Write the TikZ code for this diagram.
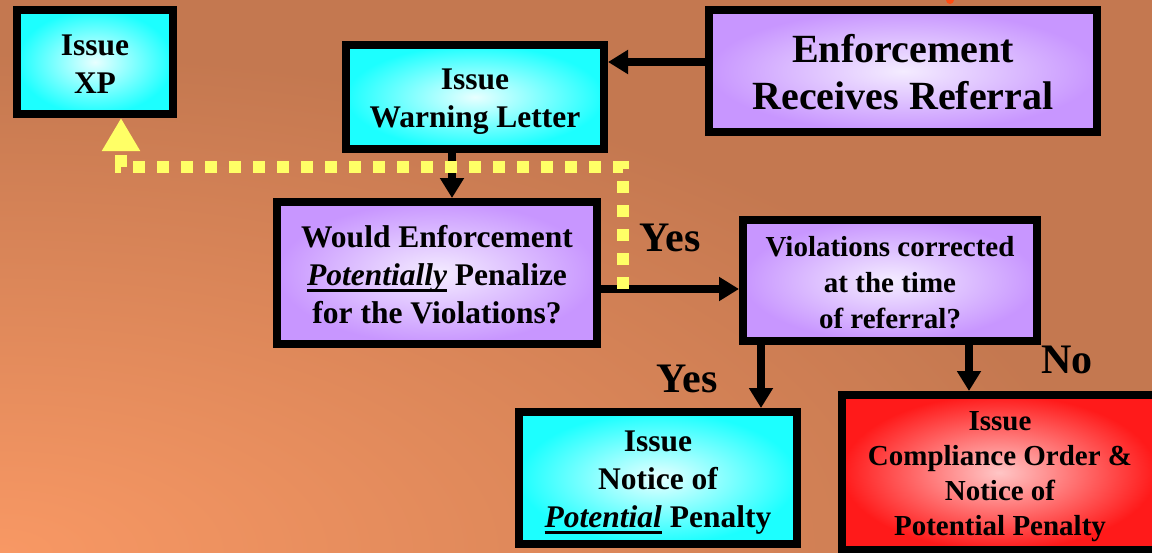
\documentclass[tikz,border=0pt]{standalone}
\usepackage{fontspec}
\setmainfont{Liberation Serif}
\usetikzlibrary{arrows.meta}
\definecolor{bgbase}{HTML}{C47850}
\definecolor{bglight}{HTML}{F89864}
\definecolor{cyanedge}{HTML}{1CFFFF}
\definecolor{cyancenter}{HTML}{E8FFFF}
\definecolor{purpedge}{HTML}{C896FF}
\definecolor{purpcenter}{HTML}{F4ECFF}
\definecolor{rededge}{HTML}{FF1A1A}
\definecolor{redcenter}{HTML}{FFC6C6}
\definecolor{dotyellow}{HTML}{FFFF66}
\definecolor{dotorange}{HTML}{FF4A10}
\newsavebox\ulbox
\newcommand\thickul[1]{\sbox\ulbox{#1}\rlap{\rule[-6pt]{\wd\ulbox}{3pt}}\usebox\ulbox}
\tikzset{
  box/.style={draw=black, line width=8pt, inner sep=0pt},
  cyanbox/.style={box, inner color=cyancenter, outer color=cyanedge},
  purplebox/.style={box, inner color=purpcenter, outer color=purpedge},
  redbox/.style={box, inner color=redcenter, outer color=rededge},
  txt/.style={inner sep=0pt, align=center},
  fmain/.style={txt, font=\bfseries\fontsize{31.5}{38}\selectfont},
  fbig/.style={txt, font=\bfseries\fontsize{40}{47}\selectfont},
  fsmall/.style={txt, font=\bfseries\fontsize{29}{36}\selectfont},
  fcomp/.style={txt, font=\bfseries\fontsize{29}{35}\selectfont},
  lbl/.style={inner sep=0pt, font=\bfseries\fontsize{42}{48}\selectfont},
  arr/.style={line width=8pt, -{Triangle[length=20pt,width=23pt]}},
  yellowdots/.style={draw=dotyellow, line width=12pt, dash pattern=on 12pt off 12pt,
    -{Triangle[length=33pt,width=36pt]}},
}
\begin{document}
\begin{tikzpicture}[x=1pt,y=-1pt]
\useasboundingbox (0,0) rectangle (1152,552);
\fill[bgbase] (0,0) rectangle (1152,552);
\begin{scope}
\clip (0,0) rectangle (1152,552);
\shade[inner color=bglight, outer color=bgbase] (0,552) ellipse [x radius=1100, y radius=500];
\fill[dotorange] (950,0) circle (4);
\end{scope}

\node[cyanbox, minimum width=156pt, minimum height=104pt] (xp) at (95,62) {};
\node[fmain] (xpt) at ([yshift=-2pt]xp.center) {Issue\\XP};
\node[cyanbox, minimum width=258pt, minimum height=104pt] (warn) at (475,97) {};
\node[fmain] (warnt) at ([yshift=-5pt]warn.center) {Issue\\Warning Letter};
\node[purplebox, minimum width=388pt, minimum height=122pt] (enf) at (903,71) {};
\node[fbig] (enft) at ([yshift=-1.5pt]enf.center) {Enforcement\\Receives Referral};
\node[purplebox, minimum width=320pt, minimum height=142pt] (would) at (437,273) {};
\node[fmain] (wouldt) at ([yshift=-2pt]would.center)
  {Would Enforcement\\\thickul{\textit{Potentially}} Penalize\\for the Violations?};
\node[purplebox, minimum width=294pt, minimum height=121pt] (viol) at (890,280.5) {};
\node[fsmall] (violt) at ([yshift=-2pt]viol.center)
  {Violations corrected\\at the time\\of referral?};
\node[cyanbox, minimum width=278pt, minimum height=132pt] (notice) at (658,478) {};
\node[fmain] (noticet) at ([yshift=-5pt]notice.center)
  {Issue\\Notice of\\\thickul{\textit{Potential}} Penalty};
\node[redbox, minimum width=314pt, minimum height=155pt] (comp) at (999,472.5) {};
\node[fcomp] (compt) at ([xshift=1pt,yshift=-4.5pt]comp.center)
  {Issue\\Compliance Order \&\\Notice of\\Potential Penalty};

\node[lbl] (yes1) at (670,238) {Yes};
\node[lbl] (yes2) at (687,379) {Yes};
\node[lbl] (no) at (1067,360) {No};

\draw[arr] ([yshift=9pt]enf.west) -- ([yshift=9pt]enf.west -| warn.east);
\draw[arr] ([xshift=-23pt]warn.south) -- ([xshift=-23pt]warn.south |- would.north);
\draw[arr] ([yshift=-16pt]would.east) -- ([yshift=-16pt]would.east -| viol.west);
\draw[arr] ([xshift=-129pt]viol.south) -- ([xshift=-129pt]viol.south |- notice.north);
\draw[arr] ([xshift=79pt]viol.south) -- ([xshift=79pt]viol.south |- comp.north);

\coordinate (branch) at (623,289);
\coordinate (ycorner) at (623,167);
\draw[yellowdots] (branch) -- (ycorner) -| ([xshift=26pt]xp.south);
\end{tikzpicture}
\end{document}
